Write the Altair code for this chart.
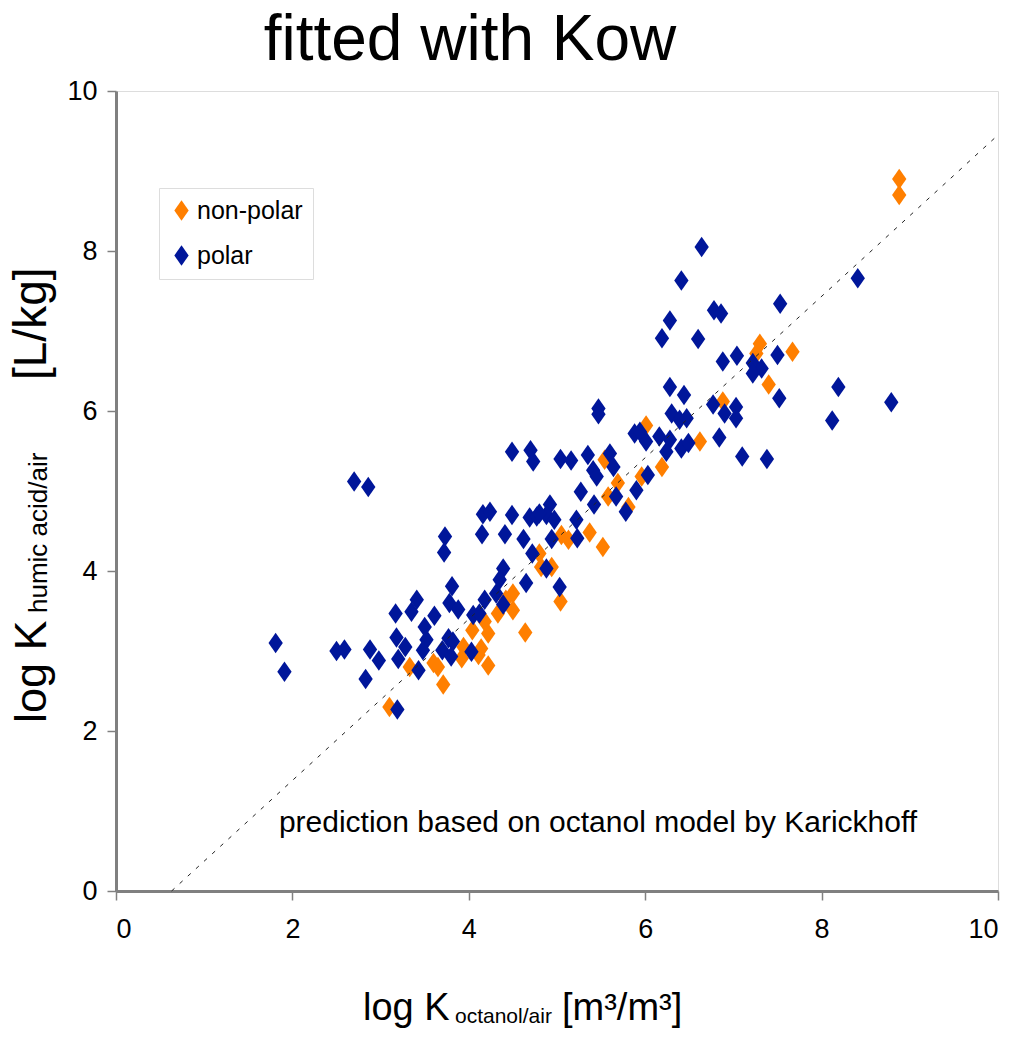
import altair as alt
import pandas as pd

# ---- data ----
nonpolar_x = [3.10, 3.33, 3.60, 3.65, 3.71, 3.94, 3.92, 4.04, 4.18, 4.22, 4.11, 4.22, 4.14,
              4.33, 4.50, 4.50, 4.42, 4.64, 4.80, 4.82, 4.94, 5.04, 5.05, 5.13, 5.37, 5.52,
              5.54, 5.58, 5.69, 5.81, 5.96, 6.01, 6.19, 6.62, 6.88, 7.26, 7.30, 7.40, 7.67,
              8.88, 8.88]
nonpolar_y = [2.30, 2.80, 2.85, 2.80, 2.58, 3.05, 2.91, 3.26, 3.37, 3.22, 2.95, 2.82, 3.03,
              3.47, 3.51, 3.72, 3.64, 3.23, 4.22, 4.05, 4.05, 3.62, 4.45, 4.39, 4.48, 4.30,
              5.39, 4.93, 5.10, 4.80, 5.18, 5.82, 5.30, 5.62, 6.12, 6.72, 6.84, 6.33, 6.74,
              8.90, 8.70]

polar_x = [1.81, 1.91, 2.70, 2.86, 2.50, 2.59, 2.88, 2.98, 2.83, 3.17, 3.18, 3.28, 3.20,
           3.35, 3.41, 3.61, 3.50, 3.52, 3.48, 3.43, 3.19, 3.81, 3.78, 3.88, 3.77, 3.82,
           3.70, 3.80, 4.03, 4.05, 4.12, 4.18, 4.31, 4.49, 4.70, 4.73, 5.04, 5.16, 5.35,
           5.41, 5.45, 5.27, 5.42, 4.16, 4.24, 4.49, 4.69, 4.77, 4.92, 4.88, 4.97, 4.15,
           4.41, 4.62, 4.94, 5.22, 5.23, 3.73, 3.72, 4.72, 4.88, 4.65, 5.03, 4.39, 4.35,
           4.39, 4.80, 5.60, 5.64, 5.90, 6.03, 5.67, 5.78, 5.47, 5.47, 6.28, 6.44, 6.77,
           6.30, 6.39, 6.47, 5.88, 5.94, 6.01, 6.16, 6.28, 6.24, 6.41, 6.49, 6.78, 6.86,
           6.28, 6.19, 6.60, 7.53, 6.88, 7.04, 7.22, 7.32, 7.22, 7.50, 7.52, 6.90, 7.03,
           7.03, 6.84, 7.10, 7.38, 6.64, 6.41, 8.41, 8.19, 8.12, 8.79]
polar_y = [3.10, 2.74, 5.12, 5.05, 3.00, 3.02, 3.02, 2.88, 2.65, 3.47, 3.17, 3.05, 2.90,
           3.49, 3.64, 3.44, 3.30, 3.14, 3.01, 2.76, 2.27, 3.81, 3.60, 3.52, 3.16, 3.12,
           3.01, 2.93, 2.99, 3.45, 3.47, 3.64, 3.72, 5.49, 5.51, 5.37, 5.40, 5.38, 5.45,
           5.26, 5.18, 4.99, 4.83, 4.71, 4.74, 4.70, 4.67, 4.68, 4.83, 4.70, 4.64, 4.46,
           4.46, 4.40, 4.40, 4.64, 4.41, 4.43, 4.23, 4.22, 4.03, 3.85, 3.80, 4.03, 3.89,
           3.58, 4.72, 5.47, 5.30, 5.01, 5.20, 4.93, 4.74, 6.03, 5.96, 6.30, 6.20, 6.08,
           5.97, 5.89, 5.91, 5.72, 5.74, 5.62, 5.68, 5.64, 5.49, 5.53, 5.60, 7.26, 7.22,
           7.13, 6.91, 6.90, 7.34, 6.62, 6.69, 6.60, 6.53, 6.47, 6.70, 6.16, 5.97, 6.05,
           5.91, 5.67, 5.43, 5.40, 8.05, 7.63, 7.66, 6.30, 5.88, 6.11]

groups = ["non-polar", "polar"]
colors = ["#FF7F00", "#00169A"]

line_x = [0.63, 10.0]
line_y = [0.0, 9.45]

x_ticks = [0, 2, 4, 6, 8, 10]
y_ticks = [0, 2, 4, 6, 8, 10]

pts = pd.DataFrame({
    "x": nonpolar_x + polar_x,
    "y": nonpolar_y + polar_y,
    "group": ["non-polar"] * len(nonpolar_x) + ["polar"] * len(polar_x),
})
ref = pd.DataFrame({"x": line_x, "y": line_y})

SANS = "Liberation Sans, Arial, sans-serif"
DIAMOND = "M0,-1L0.7,0L0,1L-0.7,0Z"

xs = alt.Scale(domain=[0, 10], nice=False, zero=False)
ys = alt.Scale(domain=[0, 10], nice=False, zero=False)

axis_common = dict(
    title=None, grid=False, format="d", labelFont=SANS, labelFontSize=27, labelColor="black",
    tickColor="#808080", tickWidth=1.5, tickSize=9, domainColor="#808080", domainWidth=3,
)

points = alt.Chart(pts).mark_point(
    shape=DIAMOND, filled=True, size=420, opacity=1, strokeWidth=0
).encode(
    x=alt.X("x:Q", scale=xs, axis=alt.Axis(values=x_ticks, labelPadding=16, **axis_common)),
    y=alt.Y("y:Q", scale=ys, axis=alt.Axis(values=y_ticks, labelPadding=10, **axis_common)),
    color=alt.Color(
        "group:N",
        scale=alt.Scale(domain=groups, range=colors),
        legend=alt.Legend(
            title=None, orient="none", legendX=43, legendY=97,
            symbolType=DIAMOND, symbolSize=420, symbolStrokeWidth=0,
            labelFont=SANS, labelFontSize=25, labelColor="black", labelOffset=3,
            padding=10, rowPadding=19, strokeColor="#dddddd", fillColor="white",
        ),
    ),
    order=alt.Order("group:N", sort="ascending"),
)

line = alt.Chart(ref).mark_line(
    color="#222222", strokeWidth=1, strokeDash=[4, 7]
).encode(x=alt.X("x:Q", scale=xs), y=alt.Y("y:Q", scale=ys))


def label(text, x, y, size, font, angle=0, align="left"):
    return alt.Chart(alt.Data(values=[{}])).mark_text(
        text=text, font=font, fontSize=size, angle=angle, align=align,
        baseline="alphabetic", color="black",
    ).encode(x=alt.value(x), y=alt.value(y))


texts = [
    label("fitted with Kow", 354, -31, 64, SANS, align="center"),
    label("prediction based on octanol model by Karickhoff", 482, 741, 30, SANS, align="center"),
    # x axis title
    label("log K", 247, 929, 38, SANS),
    label("octanol/air", 339, 932, 21, SANS),
    label("[m\u00b3/m\u00b3]", 446, 929, 38, SANS),
    # y axis title (rotated)
    label("log K", -70, 632, 45, SANS, angle=270),
    label("humic acid/air", -69, 522, 26, SANS, angle=270),
    label("[L/kg]", -70, 289, 46, SANS, angle=270),
]

chart = alt.layer(points, line, *texts).properties(
    width=882, height=800,
    autosize=alt.AutoSizeParams(type="none"),
    padding={"left": 108, "top": 83, "right": 4, "bottom": 139},
).configure_view(
    stroke="#909090", strokeWidth=3
).configure(background="white")

chart.save("out.html", embed_options={"renderer": "svg", "actions": False})
